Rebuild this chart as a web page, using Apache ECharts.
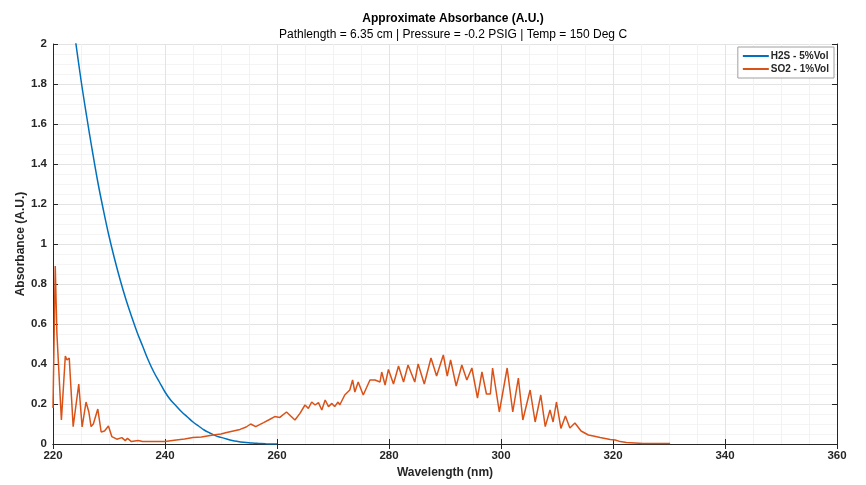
<!DOCTYPE html>
<html>
<head>
<meta charset="utf-8">
<script src="https://cdn.jsdelivr.net/npm/echarts@6/dist/echarts.min.js"></script>
<style>
  html, body { margin: 0; padding: 0; background: #fff; }
  #chart { width: 866px; height: 485px; }
</style>
</head>
<body>
<div id="chart"></div>
<script>
// 数据：波长 (nm) 与吸光度 (A.U.)
const h2sWavelength = [222, 223, 224, 225, 226, 227, 228, 229, 230, 231, 232, 233, 234, 235, 236, 237, 238, 239, 240,
  241, 242, 243, 244, 245, 246, 247, 248, 249, 250, 251, 252, 253, 254, 255, 256, 257, 258, 260];
const h2sAbsorbance = [2.45, 2.22, 2.02, 1.82, 1.64, 1.47, 1.31, 1.17, 1.04, 0.925, 0.82, 0.725, 0.64, 0.56, 0.49, 0.42, 0.36, 0.31, 0.26,
  0.22, 0.19, 0.16, 0.135, 0.11, 0.09, 0.07, 0.055, 0.042, 0.033, 0.025, 0.018, 0.013, 0.009, 0.006, 0.004, 0.002, 0.001, 0];

const so2Wavelength = [220.0, 220.4, 220.7, 221.5, 222.2, 222.5, 222.9, 223.6, 224.6, 225.2, 225.9, 226.4, 226.8, 227.2, 228.0,
  228.6, 229.2, 229.9, 230.5, 231.4, 232.3, 232.9, 233.3, 234.0, 235.2, 236, 238, 240, 242, 243.5, 245, 246.5, 248.6,
  250, 251, 252.2, 253.4, 254.5, 255.3, 256.2, 257.6, 258.5, 259.6, 260.5, 261.7, 263.2, 264.1, 265, 265.6, 266.2,
  266.8, 267.4, 268.0, 268.6, 269.2, 269.8, 270.3, 270.9, 271.2, 272.1, 273.0, 273.5, 273.9, 274.5, 275.4, 276.6,
  277.5, 278.4, 278.7, 279.3, 279.9, 280.8, 281.7, 282.6, 283.4, 284.6, 285.2, 286.3, 287.5, 288.5, 289.7, 290.4,
  291.0, 292.0, 293.0, 293.9, 294.8, 295.8, 296.6, 297.4, 298.1, 298.5, 299.7, 301.1, 302.1, 303.1, 303.9, 305.2,
  306.1, 307.1, 307.9, 308.75, 309.3, 309.9, 310.7, 311.5, 312.3, 313.2, 314.3, 315.6, 316.5, 317.7, 318.6, 319.5,
  320.4, 321.3, 322.4, 325.4, 330.2];
const so2Absorbance = [0.18, 0.89, 0.55, 0.12, 0.44, 0.42, 0.43, 0.087, 0.30, 0.085, 0.21, 0.16, 0.087, 0.10, 0.175,
  0.06, 0.065, 0.09, 0.037, 0.024, 0.032, 0.017, 0.028, 0.012, 0.017, 0.012, 0.012, 0.013, 0.02, 0.025, 0.033, 0.035, 0.045,
  0.05, 0.057, 0.065, 0.073, 0.085, 0.10, 0.087, 0.107, 0.12, 0.137, 0.133, 0.16, 0.12, 0.153, 0.195, 0.178, 0.21,
  0.195, 0.207, 0.17, 0.22, 0.187, 0.203, 0.187, 0.21, 0.195, 0.245, 0.27, 0.32, 0.26, 0.31, 0.245, 0.32,
  0.32, 0.31, 0.36, 0.295, 0.373, 0.30, 0.39, 0.31, 0.395, 0.31, 0.40, 0.30, 0.43, 0.34, 0.445, 0.34,
  0.42, 0.29, 0.395, 0.32, 0.38, 0.23, 0.36, 0.25, 0.25, 0.38, 0.16, 0.38, 0.16, 0.33, 0.12, 0.27,
  0.11, 0.245, 0.087, 0.17, 0.11, 0.21, 0.078, 0.14, 0.08, 0.105, 0.065, 0.045, 0.04, 0.033, 0.028, 0.023,
  0.02, 0.012, 0.007, 0.003, 0.002];

const seriesNames = ['H2S - 5%Vol', 'SO2 - 1%Vol'];
const seriesColors = ['#0072BD', '#D95319'];

const font = 'Liberation Sans, Arial, sans-serif';
const zip = (xs, ys) => xs.map((x, i) => [x, ys[i]]);

const chart = echarts.init(document.getElementById('chart'));

// 顶部和右侧的辅助轴，只画边框和刻度
const hiddenAxisBase = {
  axisLabel: { show: false },
  splitLine: { show: false },
  axisLine: { show: true, lineStyle: { color: '#262626', width: 1 } },
  axisTick: { show: true, inside: true, length: 5, lineStyle: { color: '#262626' } }
};

chart.setOption({
  animation: false,
  textStyle: { fontFamily: font },
  title: {
    text: 'Approximate Absorbance (A.U.)',
    subtext: 'Pathlength = 6.35 cm | Pressure = -0.2 PSIG | Temp = 150 Deg C',
    left: 448,
    top: 8,
    textAlign: 'center',
    itemGap: 4,
    textStyle: { fontFamily: font, fontSize: 12, fontWeight: 'bold', color: '#000' },
    subtextStyle: { fontFamily: font, fontSize: 12, color: '#000' }
  },
  legend: {
    data: seriesNames,
    orient: 'vertical',
    right: 32,
    top: 47,
    icon: 'rect',
    itemWidth: 26,
    itemHeight: 2,
    itemGap: 3,
    padding: [4, 5, 4, 5],
    backgroundColor: '#fff',
    borderColor: '#a0a0a0',
    borderWidth: 1,
    borderRadius: 0,
    textStyle: { fontFamily: font, fontSize: 10, fontWeight: 'bold', color: '#262626', padding: [0, 0, 0, -3] }
  },
  grid: { left: 53, right: 29, top: 44, bottom: 41, containLabel: false },
  xAxis: [
    {
      type: 'value', min: 220, max: 360, interval: 20,
      name: 'Wavelength (nm)', nameLocation: 'middle', nameGap: 22,
      nameTextStyle: { fontFamily: font, fontSize: 12, fontWeight: 'bold', color: '#262626' },
      axisLine: { onZero: false, lineStyle: { color: '#262626', width: 1 } },
      axisTick: { inside: true, length: 5, lineStyle: { color: '#262626' } },
      axisLabel: { fontFamily: font, fontSize: 11.5, fontWeight: 'bold', color: '#262626', margin: 6 },
      splitLine: { show: true, lineStyle: { color: '#e3e3e3', width: 1 } },
      minorTick: { show: false, splitNumber: 4 },
      minorSplitLine: { show: true, lineStyle: { color: '#f2f2f2', width: 1 } }
    },
    Object.assign({ type: 'value', position: 'top', min: 220, max: 360, interval: 20 }, hiddenAxisBase)
  ],
  yAxis: [
    {
      type: 'value', min: 0, max: 2, interval: 0.2,
      name: 'Absorbance (A.U.)', nameLocation: 'middle', nameGap: 26, nameMoveOverlap: false,
      nameTextStyle: { fontFamily: font, fontSize: 12, fontWeight: 'bold', color: '#262626' },
      axisLine: { show: true, onZero: false, lineStyle: { color: '#262626', width: 1 } },
      axisTick: { show: true, inside: true, length: 5, lineStyle: { color: '#262626' } },
      axisLabel: { fontFamily: font, fontSize: 11.5, fontWeight: 'bold', color: '#262626', margin: 6,
        formatter: v => String(Math.round(v * 10) / 10) },
      splitLine: { show: true, lineStyle: { color: '#e3e3e3', width: 1 } },
      minorTick: { show: false, splitNumber: 4 },
      minorSplitLine: { show: true, lineStyle: { color: '#f4f4f4', width: 1 } }
    },
    Object.assign({ type: 'value', position: 'right', min: 0, max: 2, interval: 0.2 }, hiddenAxisBase)
  ],
  series: [
    {
      name: seriesNames[0], type: 'line', showSymbol: false, symbol: 'none', clip: true, smooth: 0.4,
      data: zip(h2sWavelength, h2sAbsorbance),
      lineStyle: { color: seriesColors[0], width: 1.5 }, itemStyle: { color: seriesColors[0] }
    },
    {
      name: seriesNames[1], type: 'line', showSymbol: false, symbol: 'none', clip: true,
      data: zip(so2Wavelength, so2Absorbance),
      lineStyle: { color: seriesColors[1], width: 1.5 }, itemStyle: { color: seriesColors[1] }
    }
  ]
});

window.addEventListener('resize', function () {
  chart.resize();
});
</script>
</body>
</html>
